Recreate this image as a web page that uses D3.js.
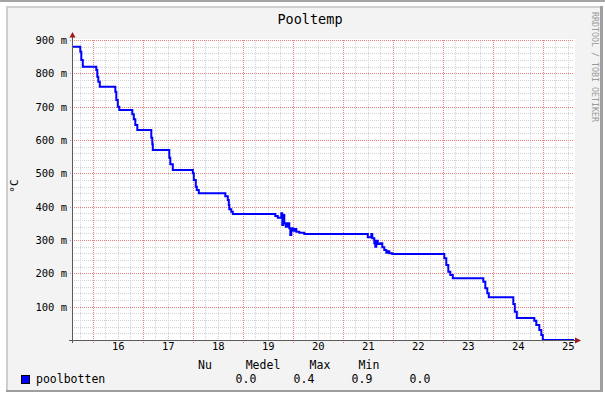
<!DOCTYPE html>
<html>
<head>
<meta charset="utf-8">
<script src="https://cdnjs.cloudflare.com/ajax/libs/d3/7.8.5/d3.min.js"></script>
<style>
  body { margin: 0; background: #fff; }
  text { font-family: "DejaVu Sans Mono", monospace; fill: #000; }
</style>
</head>
<body>
<div id="chart"></div>
<script>
// pool temperature, hours of the day -> degrees
var hours = [15.084, 15.25, 15.27, 15.30, 15.57, 15.59, 15.61, 15.64,
  15.95, 15.97, 16.00, 16.03, 16.29, 16.32, 16.35, 16.39,
  16.67, 16.69, 16.70, 17.03, 17.05, 17.10,
  17.50, 17.52, 17.56, 17.58, 17.62,
  18.15, 18.20, 18.22, 18.23, 18.27, 18.30,
  19.15, 19.20, 19.27, 19.29, 19.31, 19.33, 19.36, 19.40, 19.43, 19.45,
  19.47, 19.50, 19.53, 19.57, 19.63, 19.73,
  21.00, 21.07, 21.09, 21.13, 21.15, 21.17, 21.20, 21.25, 21.29, 21.33,
  21.37, 21.40, 21.43, 21.49,
  22.53, 22.57, 22.61, 22.65, 22.70,
  23.31, 23.35, 23.39, 23.42,
  23.91, 23.94, 23.98,
  24.33, 24.37, 24.43, 24.47, 24.50, 25.124];
var temps = [0.88, 0.865, 0.84, 0.82, 0.81, 0.79, 0.775, 0.76,
  0.745, 0.72, 0.70, 0.69, 0.677, 0.662, 0.645, 0.63,
  0.607, 0.587, 0.57, 0.547, 0.527, 0.51,
  0.50, 0.48, 0.46, 0.45, 0.44,
  0.431, 0.42, 0.405, 0.392, 0.385, 0.378,
  0.372, 0.367, 0.38, 0.345, 0.375, 0.35, 0.34, 0.35, 0.335, 0.315,
  0.335, 0.328, 0.333, 0.325, 0.322, 0.318,
  0.308, 0.318, 0.305, 0.29, 0.28, 0.298, 0.288, 0.29, 0.278, 0.27,
  0.262, 0.266, 0.26, 0.258,
  0.245, 0.225, 0.205, 0.195, 0.185,
  0.175, 0.155, 0.14, 0.128,
  0.108, 0.085, 0.066,
  0.058, 0.045, 0.03, 0.015, 0, 0];

var xLabels = [16, 17, 18, 19, 20, 21, 22, 23, 24, 25];
var yLabels = [0.1, 0.2, 0.3, 0.4, 0.5, 0.6, 0.7, 0.8, 0.9];
var statNames = ["Nu", "Medel", "Max", "Min"];
var statValues = ["0.0", "0.4", "0.9", "0.0"];
var seriesName = "poolbotten";
var chartTitle = "Pooltemp";
var unitLabel = "°C";
var watermark = "RRDTOOL / TOBI OETIKER";

var width = 605;
var height = 396;
var plotLeft = 72;
var plotRight = 574;
var plotTop = 40;
var plotBottom = 340;

var svg = d3.select("#chart")
    .append("svg")
    .attr("width", width)
    .attr("height", height);

// page strip + rrdtool frame
svg.append("rect").attr("x", 0).attr("y", 0).attr("width", width).attr("height", 2).attr("fill", "#a4a4a4");
svg.append("rect").attr("x", 6).attr("y", 6).attr("width", 597).attr("height", 386).attr("fill", "#f3f3f3");
svg.append("rect").attr("x", 6).attr("y", 6).attr("width", 597).attr("height", 2).attr("fill", "#cfcfcf");
svg.append("rect").attr("x", 6).attr("y", 6).attr("width", 2).attr("height", 386).attr("fill", "#cfcfcf");
svg.append("rect").attr("x", 600).attr("y", 6).attr("width", 3).attr("height", 386).attr("fill", "#9e9e9e");
svg.append("rect").attr("x", 6).attr("y", 390).attr("width", 597).attr("height", 2).attr("fill", "#9e9e9e");

var x = d3.scaleLinear()
    .domain([hours[0], hours[hours.length - 1]])
    .range([plotLeft, plotRight]);
var y = d3.scaleLinear()
    .domain([0, 0.9])
    .range([plotBottom, plotTop]);

svg.append("rect")
    .attr("x", plotLeft).attr("y", plotTop - 1)
    .attr("width", plotRight - plotLeft + 1).attr("height", plotBottom - plotTop + 1)
    .attr("fill", "#fff");

// grid
var grid = svg.append("g").attr("shape-rendering", "crispEdges");
var minorX = d3.range(Math.ceil(hours[0] * 4) / 4, x.domain()[1], 0.25)
    .filter(function(t) { return Math.abs(t - Math.floor(t) - 0.5) > 0.01; });
var majorX = d3.range(15.5, x.domain()[1], 1);
var minorY = d3.range(0.02, 0.9, 0.02)
    .filter(function(v) { return Math.abs(v * 10 - Math.round(v * 10)) > 0.01; });
var majorY = yLabels;

function px(v) { return Math.round(v) + 0.5; }

grid.selectAll(".minorX").data(minorX).enter().append("line")
    .attr("x1", function(d) { return px(x(d)); }).attr("x2", function(d) { return px(x(d)); })
    .attr("y1", plotTop).attr("y2", plotBottom)
    .attr("stroke", "#d2d2d2").attr("stroke-dasharray", "1,1");
grid.selectAll(".minorY").data(minorY).enter().append("line")
    .attr("y1", function(d) { return px(y(d)); }).attr("y2", function(d) { return px(y(d)); })
    .attr("x1", plotLeft).attr("x2", plotRight)
    .attr("stroke", "#d2d2d2").attr("stroke-dasharray", "1,1");
grid.selectAll(".majorX").data(majorX).enter().append("line")
    .attr("x1", function(d) { return px(x(d)); }).attr("x2", function(d) { return px(x(d)); })
    .attr("y1", plotTop).attr("y2", plotBottom + 3)
    .attr("stroke", "#e88080").attr("stroke-dasharray", "1,1");
grid.selectAll(".majorY").data(majorY).enter().append("line")
    .attr("y1", function(d) { return px(y(d)); }).attr("y2", function(d) { return px(y(d)); })
    .attr("x1", plotLeft - 2).attr("x2", plotRight)
    .attr("stroke", "#e88080").attr("stroke-dasharray", "1,1");

// data line
var points = hours.map(function(h, i) { return [h, temps[i]]; });
var line = d3.line()
    .x(function(d) { return x(d[0]); })
    .y(function(d) { return y(d[1]); })
    .curve(d3.curveStepAfter);
svg.append("path")
    .datum(points)
    .attr("d", line)
    .attr("fill", "none")
    .attr("stroke", "#0000ff")
    .attr("stroke-width", 2);

// axes
var yAxis = d3.axisLeft(y)
    .tickValues(yLabels)
    .tickSize(0)
    .tickPadding(5)
    .tickFormat(function(d) { return Math.round(d * 1000) + " m"; });
var xAxis = d3.axisBottom(x)
    .tickValues(xLabels)
    .tickSize(0)
    .tickPadding(3)
    .tickFormat(d3.format("d"));

var gy = svg.append("g").attr("transform", "translate(" + plotLeft + ",0)").call(yAxis);
var gx = svg.append("g").attr("transform", "translate(0," + plotBottom + ")").call(xAxis);
gy.select(".domain").remove();
gx.select(".domain").remove();
svg.selectAll(".tick text")
    .attr("font-family", "DejaVu Sans Mono")
    .attr("font-size", 10.5)
    .attr("fill", "#000");

svg.append("line")
    .attr("x1", plotLeft + 0.5).attr("x2", plotLeft + 0.5)
    .attr("y1", plotBottom + 3).attr("y2", plotTop - 4)
    .attr("stroke", "#5a5a5a").attr("shape-rendering", "crispEdges");
svg.append("line")
    .attr("x1", plotLeft - 3).attr("x2", plotRight + 1)
    .attr("y1", plotBottom + 0.5).attr("y2", plotBottom + 0.5)
    .attr("stroke", "#5a5a5a").attr("shape-rendering", "crispEdges");
svg.append("path")
    .attr("d", "M69.5,37.5L75.5,37.5L72.5,32Z")
    .attr("fill", "#a01818");
svg.append("path")
    .attr("d", "M575,337.5L575,343.5L581,340.5Z")
    .attr("fill", "#a01818");

// titles
svg.append("text")
    .attr("x", 310).attr("y", 24)
    .attr("text-anchor", "middle")
    .attr("font-size", 13.5)
    .text(chartTitle);
svg.append("text")
    .attr("transform", "translate(18,186)rotate(-90)")
    .attr("text-anchor", "middle")
    .attr("font-size", 11)
    .text(unitLabel);
svg.append("text")
    .attr("transform", "translate(592,12)rotate(90)")
    .attr("font-size", 8.3)
    .style("fill", "#9a9a9a")
    .text(watermark);

// legend
svg.append("rect")
    .attr("x", 21.5).attr("y", 375.5).attr("width", 8).attr("height", 8)
    .attr("fill", "#0000ff").attr("stroke", "#000");
svg.append("text")
    .attr("x", 36).attr("y", 383)
    .attr("font-size", 11.5)
    .text(seriesName);

var headerX = [205, 263, 320, 369];
svg.selectAll(".statName").data(statNames).enter().append("text")
    .attr("x", function(d, i) { return headerX[i]; })
    .attr("y", 368.5)
    .attr("text-anchor", "middle")
    .attr("font-size", 11.5)
    .text(function(d) { return d; });
svg.selectAll(".statValue").data(statValues).enter().append("text")
    .attr("x", function(d, i) { return 246 + i * 58; })
    .attr("y", 383)
    .attr("text-anchor", "middle")
    .attr("font-size", 11.5)
    .text(function(d) { return d; });
</script>
</body>
</html>
